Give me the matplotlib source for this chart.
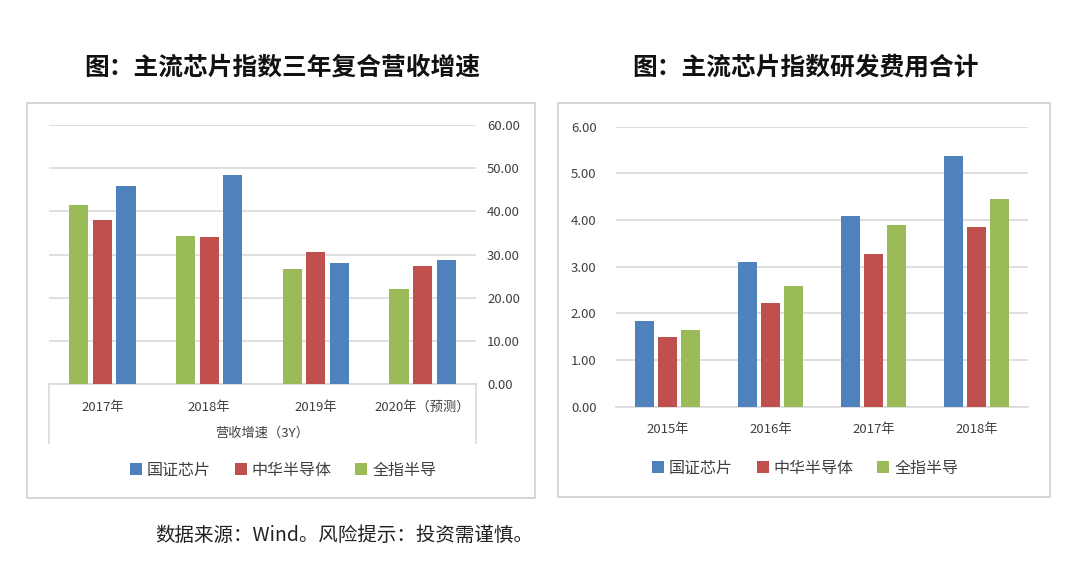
import matplotlib
matplotlib.use("Agg")
import numpy as np
import matplotlib.pyplot as plt
from matplotlib.patches import Rectangle, Patch
from matplotlib.lines import Line2D

plt.rcParams['font.family'] = ['Noto Sans CJK SC', 'DejaVu Sans']

# 数据
series_names = ['国证芯片', '中华半导体', '全指半导']
colors = ['#4F81BD', '#C0504D', '#9BBB59']

growth_years = ['2017年', '2018年', '2019年', '2020年（预测）']
growth_guozheng = [45.8, 48.4, 28.0, 28.7]
growth_zhonghua = [38.0, 34.1, 30.5, 27.3]
growth_quanzhi = [41.5, 34.2, 26.6, 22.1]
growth_ticks = [0, 10, 20, 30, 40, 50, 60]

rd_years = ['2015年', '2016年', '2017年', '2018年']
rd_guozheng = [1.84, 3.09, 4.09, 5.37]
rd_zhonghua = [1.49, 2.22, 3.27, 3.86]
rd_quanzhi = [1.64, 2.59, 3.89, 4.45]
rd_ticks = [0, 1, 2, 3, 4, 5, 6]

W, H = 1080, 564
fig = plt.figure(figsize=(W / 100, H / 100), dpi=100)
fig.patch.set_facecolor('white')


def box(x0, x1, y0, y1):
    # 像素坐标 -> figure 坐标
    return [x0 / W, 1 - y1 / H, (x1 - x0) / W, (y1 - y0) / H]


grid_c = '#D9D9D9'
frame_c = '#D0D0D0'
txt_c = '#404040'

# 外框
for x0, x1, y0, y1 in [(27, 535, 103, 498), (558, 1050, 103, 497)]:
    fig.patches.append(Rectangle((x0 / W, 1 - y1 / H), (x1 - x0) / W, (y1 - y0) / H,
                                 transform=fig.transFigure, fill=False,
                                 edgecolor=frame_c, lw=1.2))

# 左图：三年复合营收增速
ax1 = fig.add_axes(box(49, 476, 125, 384))
x = np.arange(len(growth_years))
bw, step = 0.18, 0.222
for i, (vals, c) in enumerate([(growth_quanzhi, colors[2]),
                               (growth_zhonghua, colors[1]),
                               (growth_guozheng, colors[0])]):
    ax1.bar(x + (i - 1) * step, vals, width=bw, color=c, zorder=3)
ax1.set_xlim(-0.5, len(x) - 0.5)
ax1.set_ylim(0, 60)
ax1.set_yticks(growth_ticks)
ax1.set_yticklabels(['%.2f' % t for t in growth_ticks])
ax1.yaxis.tick_right()
ax1.set_xticks(x)
ax1.set_xticklabels(growth_years)
ax1.tick_params(axis='both', length=0, labelsize=9.5, colors=txt_c)
ax1.tick_params(axis='x', pad=12)
ax1.tick_params(axis='y', pad=8)
ax1.grid(axis='y', color=grid_c, lw=1.2, zorder=0)
for s in ['top', 'left', 'right']:
    ax1.spines[s].set_visible(False)
ax1.spines['bottom'].set_color(grid_c)
ax1.spines['bottom'].set_linewidth(1.2)
# 多级分类轴的边框
for xx in [0, 1]:
    ax1.add_line(Line2D([xx, xx], [0, -59 / 259], transform=ax1.transAxes,
                        color=grid_c, lw=1.2, clip_on=False))
fig.text(262 / W, 1 - 433 / H, '营收增速（3Y）', ha='center', va='center',
         fontsize=9.5, color=txt_c)

# 右图：研发费用合计
ax2 = fig.add_axes(box(616, 1028, 126.7, 406.7))
x = np.arange(len(rd_years))
bw, step = 0.178, 0.223
for i, (vals, c) in enumerate([(rd_guozheng, colors[0]),
                               (rd_zhonghua, colors[1]),
                               (rd_quanzhi, colors[2])]):
    ax2.bar(x + (i - 1) * step, vals, width=bw, color=c, zorder=3)
ax2.set_xlim(-0.5, len(x) - 0.5)
ax2.set_ylim(0, 6)
ax2.set_yticks(rd_ticks)
ax2.set_yticklabels(['%.2f' % t for t in rd_ticks])
ax2.set_xticks(x)
ax2.set_xticklabels(rd_years)
ax2.tick_params(axis='both', length=0, labelsize=9.5, colors=txt_c)
ax2.tick_params(axis='x', pad=12)
ax2.tick_params(axis='y', pad=14)
ax2.grid(axis='y', color=grid_c, lw=1.2, zorder=0)
for s in ['top', 'left', 'right']:
    ax2.spines[s].set_visible(False)
ax2.spines['bottom'].set_color(grid_c)
ax2.spines['bottom'].set_linewidth(1.2)

# 图例
handles = [Patch(facecolor=c, edgecolor='none') for c in colors]
for cx, cy in [(283, 470), (805, 468)]:
    fig.legend(handles, series_names, loc='center', bbox_to_anchor=(cx / W, 1 - cy / H),
               ncol=3, frameon=False, fontsize=11.5, handlelength=0.75, handleheight=0.75,
               handletextpad=0.3, columnspacing=1.5, labelcolor=txt_c)

# 标题
fig.text(282 / W, 1 - 68 / H, '图：主流芯片指数三年复合营收增速', ha='center', va='center',
         fontsize=17.8, fontweight='bold', color='#111111')
fig.text(805 / W, 1 - 68 / H, '图：主流芯片指数研发费用合计', ha='center', va='center',
         fontsize=17.8, fontweight='bold', color='#111111')

# 数据来源
fig.text(155 / W, 1 - 535 / H, '数据来源：Wind。风险提示：投资需谨慎。', ha='left', va='center',
         fontsize=14, color='#222222')

fig.savefig('out.png', dpi=100)
